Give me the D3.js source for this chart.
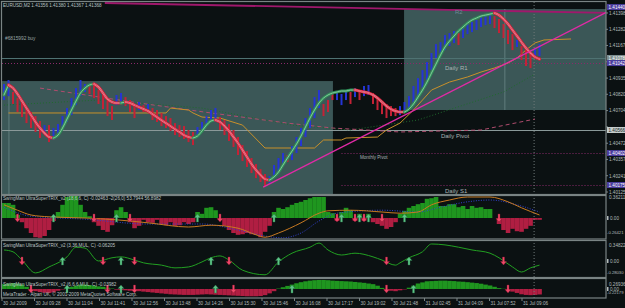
<!DOCTYPE html>
<html>
<head>
<meta charset="utf-8">
<script src="https://cdn.jsdelivr.net/npm/d3@7"></script>
<style>
body { margin: 0; background: #0b1112; }
svg { display: block; }
text { font-family: "Liberation Sans", Arial, sans-serif; }
</style>
</head>
<body>
<div id="chart"></div>
<script>
// ---- price bars (one per bar, bar 0 = left edge) ----
var ribbon = [
  1.40815,1.40886,1.40864,1.40822,1.40772,1.40722,1.40672,1.40623,1.40580,1.40544,
  1.40516,1.40509,1.40530,1.40580,1.40644,1.40708,1.40772,1.40829,1.40864,1.40886,
  1.40893,1.40871,1.40829,1.40786,1.40765,1.40758,1.40758,1.40765,1.40758,1.40743,
  1.40729,1.40715,1.40701,1.40679,1.40658,1.40637,1.40615,1.40594,1.40573,1.40552,
  1.40530,1.40516,1.40509,1.40523,1.40559,1.40601,1.40630,1.40637,1.40623,1.40594,
  1.40559,1.40516,1.40473,1.40424,1.40374,1.40324,1.40281,1.40246,1.40217,1.40210,
  1.40232,1.40267,1.40317,1.40367,1.40416,1.40466,1.40523,1.40587,1.40651,1.40708,
  1.40758,1.40793,1.40815,1.40829,1.40836,1.40843,1.40843,1.40850,1.40850,1.40843,
  1.40836,1.40829,1.40815,1.40793,1.40765,1.40736,1.40715,1.40701,1.40694,1.40694,
  1.40715,1.40751,1.40800,1.40850,1.40907,1.40971,1.41035,1.41099,1.41156,1.41198,
  1.41234,1.41270,1.41298,1.41326,1.41348,1.41362,1.41376,1.41383,1.41390,1.41398,
  1.41383,1.41355,1.41319,1.41277,1.41234,1.41191,1.41149,1.41113,1.41085,1.41070
];
var barOpen = [
  1.40779,1.40807,1.40836,1.40793,1.40765,1.40729,1.40694,1.40665,1.40630,1.40544,
  1.40601,1.40495,1.40530,1.40580,1.40623,1.40672,1.40743,1.40807,1.40836,1.40879,
  1.40879,1.40850,1.40815,1.40772,1.40736,1.40743,1.40758,1.40800,1.40779,1.40736,
  1.40708,1.40743,1.40708,1.40722,1.40708,1.40687,1.40665,1.40651,1.40615,1.40601,
  1.40594,1.40566,1.40552,1.40530,1.40559,1.40594,1.40630,1.40623,1.40658,1.40637,
  1.40608,1.40566,1.40516,1.40459,1.40416,1.40367,1.40324,1.40288,1.40253,1.40189,
  1.40224,1.40267,1.40317,1.40388,1.40352,1.40402,1.40452,1.40516,1.40580,1.40651,
  1.40722,1.40751,1.40779,1.40829,1.40779,1.40743,1.40779,1.40836,1.40800,1.40836,
  1.40807,1.40815,1.40829,1.40800,1.40772,1.40751,1.40736,1.40722,1.40672,1.40694,
  1.40708,1.40758,1.40800,1.40864,1.40921,1.40992,1.41078,1.41113,1.41134,1.41163,
  1.41184,1.41255,1.41220,1.41248,1.41262,1.41277,1.41298,1.41312,1.41319,1.41376,
  1.41355,1.41319,1.41277,1.41248,1.41156,1.41163,1.41134,1.41113,1.41078,1.41092
];
var barClose = [
  1.40893,1.40921,1.40751,1.40694,1.40658,1.40615,1.40580,1.40552,1.40509,1.40601,
  1.40480,1.40580,1.40608,1.40665,1.40722,1.40793,1.40864,1.40921,1.40893,1.40822,
  1.40793,1.40751,1.40715,1.40665,1.40637,1.40815,1.40829,1.40736,1.40694,1.40651,
  1.40765,1.40694,1.40751,1.40637,1.40623,1.40594,1.40580,1.40559,1.40530,1.40516,
  1.40502,1.40480,1.40459,1.40587,1.40623,1.40665,1.40708,1.40722,1.40566,1.40530,
  1.40488,1.40445,1.40388,1.40345,1.40303,1.40260,1.40224,1.40196,1.40168,1.40239,
  1.40317,1.40367,1.40402,1.40338,1.40452,1.40516,1.40580,1.40651,1.40722,1.40800,
  1.40850,1.40665,1.40694,1.40779,1.40836,1.40822,1.40850,1.40751,1.40864,1.40779,
  1.40879,1.40886,1.40751,1.40708,1.40679,1.40651,1.40665,1.40665,1.40736,1.40765,
  1.40807,1.40879,1.40935,1.40992,1.41049,1.41113,1.41177,1.41191,1.41241,1.41255,
  1.41270,1.41170,1.41298,1.41319,1.41334,1.41348,1.41369,1.41383,1.41390,1.41291,
  1.41255,1.41220,1.41177,1.41134,1.41206,1.41063,1.41021,1.41006,1.41149,1.41177
];

// ---- lines on the price chart: [bar, price] ----
var orangeBar = [1,36,37,41,42,44,48,53,58,69,71,75,76,83,85,88,91,95,99,103,106,109,112,114,116,118,120,126];
var orangePrice = [1.40687,1.40687,1.40722,1.40708,1.40687,1.40658,1.40651,1.40601,1.40438,1.40438,1.40495,1.40495,
  1.40509,1.40516,1.40566,1.40615,1.40708,1.40850,1.40907,1.40943,1.40978,1.41007,1.41042,1.41078,1.41135,1.41185,1.41206,1.41213];
var pinkBar = [8,30,46,63,73,88,106,118];
var pinkPrice = [1.40864,1.40758,1.40687,1.40615,1.40580,1.40552,1.40566,1.40644];
var dotGreenBar = [0,21,44,64,77,92,111,118];
var dotGreenPrice = [1.40743,1.40779,1.40722,1.40601,1.40566,1.40637,1.40836,1.40964];

// ---- zones (pivot boxes) ----
var zoneStart = [-0.5, 88.9];
var zoneEnd = [73.1, 134];
var zoneTop = [1.40914, 1.41426];
var zoneBottom = [1.40000, 1.40708];
var dividerBar = [1.1, 111.3];

// ---- horizontal levels ----
var levelPrice = [1.41078, 1.41042, 1.40566, 1.40402, 1.40175];
var levelFrom = [-1, -1, -1, 75, 75];
var levelKind = ["teal", "dots", "gray", "dots", "dots"];

// ---- trend lines ----
var trendBar0 = [22.4, 57.6];
var trendPrice0 = [1.41469, 1.40160];
var trendBar1 = [134, 134];
var trendPrice1 = [1.41398, 1.41405];

// ---- text objects ----
var noteText = ["R2", "Daily R1", "Daily Pivot", "Monthly Pivot", "Daily S1"];
var noteBar = [100.2, 98, 97.1, 79.1, 98];
var notePrice = [1.41390, 1.40996, 1.40510, 1.40360, 1.40118];

// ---- price axis ----
var priceTicks = [1.41398,1.41282,1.41167,1.41051,1.40935,1.40820,1.40704,1.40588,1.40472,1.40357,1.40241,1.40125];
var markPrice = [1.41440, 1.41078, 1.41042, 1.40566, 1.40402, 1.40175];
var markKind = ["purple", "gray", "purple", "light", "purple", "purple"];

// ---- indicator 1 ----
var hist1 = [
  0.25,0.25,0.22,0.05,-0.07,-0.17,-0.25,-0.32,-0.33,-0.30,
  -0.20,-0.05,0.10,0.22,0.35,0.42,0.38,0.22,0.10,0.03,
  -0.07,-0.13,-0.20,-0.23,-0.12,0.13,0.18,0.10,-0.07,-0.17,
  -0.13,-0.03,-0.07,-0.08,-0.03,-0.10,-0.12,-0.07,-0.13,-0.12,
  -0.07,-0.10,-0.07,0.10,0.07,0.17,0.18,0.13,-0.03,-0.13,
  -0.20,-0.25,-0.28,-0.27,-0.25,-0.27,-0.28,-0.32,-0.23,-0.13,
  0.10,0.17,0.15,0.18,0.22,0.25,0.27,0.30,0.33,0.35,
  0.35,0.35,0.10,0.08,-0.05,0.10,0.17,0.13,-0.05,0.07,
  -0.05,0.07,-0.07,-0.10,-0.13,-0.18,-0.15,-0.07,0.07,0.12,
  0.17,0.20,0.23,0.25,0.32,0.33,0.35,0.20,0.20,0.23,
  0.23,0.18,0.20,0.15,0.20,0.17,0.18,0.15,0.15,0,
  -0.10,-0.20,-0.25,-0.18,-0.22,-0.23,-0.18,-0.13,-0.03,-0.03
];
var sig1Bar = [0,3,6,10,18,25,32,41,46,52,56,58,61,66,70,72,77,84,88,92,95,99,103,108,112,115,119];
var sig1Val = [0.22,0.13,0.05,0.02,0,-0.03,-0.08,-0.15,-0.12,-0.17,-0.28,-0.32,-0.25,-0.08,0.08,0.12,0.13,0.10,0.08,0.10,0.22,0.30,0.35,0.35,0.27,0.17,0.05];
var slow1Bar = [0,6,18,32,44,52,58,62,66,70,74,84,92,97,103,108,114,119];
var slow1Val = [0.18,0.03,-0.02,-0.10,-0.10,-0.20,-0.30,-0.33,-0.25,-0.05,0.08,0.13,0.10,0.18,0.27,0.30,0.22,0.10];
var arrow1Bar = [3,11,20,25,28,43,48,60,74,75,78,79,80,81,84,89,110];
var arrow1Dir = [-1,1,-1,1,-1,1,-1,1,-1,1,-1,1,-1,1,-1,1,-1];

// ---- indicator 2 ----
var line2Bar = [0,2,4,7,10,14,16,18,21,24,26,29,31,35,38,41,44,46,48,50,53,58,61,64,68,70,72,75,78,82,84,87,88,90,93,95,98,101,104,108,110,113,115,117,119];
var line2Val = [0.24,0.20,0.02,-0.26,-0.13,0.09,0.30,0.28,0,0.07,0.09,0.02,-0.04,-0.09,-0.15,-0.13,-0.02,0.07,0.11,0.02,
  -0.20,-0.30,-0.02,0.17,0.30,0.39,0.24,0.13,0.17,0.09,0.02,-0.09,-0.04,0.07,0.20,0.37,0.35,0.30,0.24,0.17,0.07,-0.13,-0.24,-0.15,-0.09];
var arrow2Bar = [4,13,22,26,29,46,50,61,85,90,111];
var arrow2Dir = [-1,1,-1,1,-1,1,-1,1,-1,1,-1];

// ---- indicator 3 ----
var hist3 = [
  0.22,0.25,0.27,0.25,0.20,0.10,-0.05,-0.10,-0.14,-0.17,
  -0.18,-0.15,-0.08,-0.02,0.05,0.10,0.15,0.20,0.20,0.18,
  0.15,0.12,0.10,0.06,0.02,-0.03,-0.05,-0.06,-0.08,-0.10,
  -0.10,-0.12,-0.14,-0.16,-0.18,-0.20,-0.22,-0.24,-0.25,-0.26,
  -0.27,-0.27,-0.27,-0.26,-0.25,-0.24,-0.25,-0.26,-0.27,-0.28,
  -0.29,-0.30,-0.31,-0.32,-0.33,-0.33,-0.33,-0.32,-0.28,-0.20,
  -0.10,0.02,0.08,0.14,0.20,0.26,0.31,0.35,0.38,0.40,
  0.41,0.41,0.40,0.38,0.37,0.36,0.35,0.34,0.32,0.30,
  0.28,0.25,0.22,0.15,0.05,-0.05,-0.08,-0.10,-0.06,-0.02,
  0.06,0.15,0.25,0.30,0.35,0.36,0.37,0.38,0.38,0.37,
  0.36,0.34,0.33,0.31,0.29,0.27,0.24,0.20,0.16,0.10,
  0.04,0.01,-0.05,-0.12,-0.18,-0.24,-0.27,-0.28,-0.27,-0.25
];
var arrow3Bar = [6,14,23,26,29,47,51,64,85,91,112];
var arrow3Dir = [-1,1,-1,1,-1,1,-1,1,-1,1,-1];

// ---- time axis ----
var timeLabels = ["30 Jul 2009","30 Jul 09:28","30 Jul 11:04","30 Jul 11:41","30 Jul 12:56","30 Jul 13:48",
  "30 Jul 14:26","30 Jul 15:30","30 Jul 15:46","30 Jul 16:08","30 Jul 17:17","30 Jul 19:02","30 Jul 21:48",
  "31 Jul 02:45","31 Jul 04:09","31 Jul 07:52","31 Jul 09:06"];

var width = 625, height = 308, axisX = 606;

var x = d3.scaleLinear().domain([0, 119]).range([4, 539.5]);
var yMain = d3.scaleLinear().domain([1.40111, 1.41476]).range([194, 2]);
var y1 = d3.scaleLinear().domain([-0.333, 0.4]).range([238, 194]);
var y2 = d3.scaleLinear().domain([-0.37, 0.45]).range([278, 240.3]);
var y3 = d3.scaleLinear().domain([-0.41, 0.5]).range([298, 278]);
var xTime = d3.scalePoint().domain(timeLabels).range([2, 522]);

var svg = d3.select("#chart").append("svg")
    .attr("width", width)
    .attr("height", height);

svg.append("rect").attr("width", width).attr("height", height).attr("fill", "#0b1112");

var defs = svg.append("defs");
function clip(id, y0, y1_) {
  defs.append("clipPath").attr("id", id)
    .append("rect").attr("x", 2).attr("y", y0).attr("width", axisX - 2).attr("height", y1_ - y0);
}
clip("cMain", 2, 194);
clip("c1", 195, 238.5);
clip("c2", 240.5, 277);
clip("c3", 278.5, 297.5);

// ================= main chart =================
var main = svg.append("g").attr("clip-path", "url(#cMain)");

main.selectAll(".zone")
    .data(zoneStart)
  .enter().append("rect")
    .attr("x", function(d) { return x(d); })
    .attr("width", function(d, i) { return x(zoneEnd[i]) - x(d); })
    .attr("y", function(d, i) { return yMain(zoneTop[i]); })
    .attr("height", function(d, i) { return yMain(zoneBottom[i]) - yMain(zoneTop[i]); })
    .attr("fill", "#3b5757");

main.selectAll(".divider")
    .data(dividerBar)
  .enter().append("line")
    .attr("x1", function(d) { return x(d); })
    .attr("x2", function(d) { return x(d); })
    .attr("y1", function(d, i) { return yMain(zoneTop[i]); })
    .attr("y2", function(d, i) { return yMain(zoneBottom[i]); })
    .attr("stroke", "#6a8888")
    .attr("stroke-width", 0.8);

// horizontal levels
main.selectAll(".level")
    .data(levelPrice)
  .enter().append("line")
    .attr("x1", function(d, i) { return levelFrom[i] < 0 ? 2 : x(levelFrom[i]); })
    .attr("x2", axisX)
    .attr("y1", function(d) { return Math.round(yMain(d)) + 0.5; })
    .attr("y2", function(d) { return Math.round(yMain(d)) + 0.5; })
    .attr("stroke", function(d, i) {
      return levelKind[i] == "teal" ? "#4f7272" : levelKind[i] == "gray" ? "#8a9999" : "#8a2a6a";
    })
    .attr("stroke-width", 1)
    .attr("stroke-dasharray", function(d, i) { return levelKind[i] == "dots" ? "1,2" : null; });

// period separator
main.append("line")
    .attr("x1", x(117.8)).attr("x2", x(117.8))
    .attr("y1", 2).attr("y2", 194)
    .attr("stroke", "#6f7a7a").attr("stroke-dasharray", "1,2");

var priceLine = d3.line()
    .x(function(d) { return x(d[0]); })
    .y(function(d) { return yMain(d[1]); });

main.append("path")
    .attr("d", priceLine(dotGreenBar.map(function(b, i) { return [b, dotGreenPrice[i]]; })))
    .attr("fill", "none").attr("stroke", "#1f6a2c").attr("stroke-dasharray", "1,2");

main.append("path")
    .attr("d", priceLine(pinkBar.map(function(b, i) { return [b, pinkPrice[i]]; })))
    .attr("fill", "none").attr("stroke", "#b04c6e").attr("stroke-dasharray", "4,3");

main.append("path")
    .attr("d", priceLine(orangeBar.map(function(b, i) { return [b, orangePrice[i]]; })))
    .attr("fill", "none").attr("stroke", "#c8902a").attr("stroke-width", 1);

// candles
main.selectAll(".bar")
    .data(barOpen)
  .enter().append("rect")
    .attr("x", function(d, i) { return x(i) - 1; })
    .attr("width", 2)
    .attr("y", function(d, i) { return yMain(Math.max(d, barClose[i])); })
    .attr("height", function(d, i) { return Math.abs(yMain(d) - yMain(barClose[i])); })
    .attr("fill", function(d, i) { return barClose[i] > d ? "#2535d4" : "#c42236"; });

// ribbon, coloured by direction
var runs = [], cur = null, prevDir = 1;
for (var i = 0; i < ribbon.length - 1; i++) {
  var dir = ribbon[i + 1] > ribbon[i] ? 1 : (ribbon[i + 1] < ribbon[i] ? -1 : prevDir);
  if (!cur || dir !== cur.dir) { cur = {dir: dir, pts: [i]}; runs.push(cur); }
  cur.pts.push(i + 1);
  prevDir = dir;
}
var ribbonLine = d3.line()
    .x(function(d) { return x(d); })
    .y(function(d) { return yMain(ribbon[d]); })
    .curve(d3.curveMonotoneX);

runs.forEach(function(r) {
  var styles = r.dir > 0
    ? [["#2f8f58", 3], ["#8fcca2", 0.9]]
    : [["#d81e38", 3.2], ["#e89aa6", 1.5], ["#d81e38", 0.6]];
  styles.forEach(function(s) {
    main.append("path")
        .attr("d", ribbonLine(r.pts))
        .attr("fill", "none")
        .attr("stroke", s[0])
        .attr("stroke-width", s[1])
        .attr("stroke-linecap", "round");
  });
});

// trend lines
main.selectAll(".trend")
    .data(trendBar0)
  .enter().append("line")
    .attr("x1", function(d) { return x(d); })
    .attr("y1", function(d, i) { return yMain(trendPrice0[i]); })
    .attr("x2", function(d, i) { return x(trendBar1[i]); })
    .attr("y2", function(d, i) { return yMain(trendPrice1[i]); })
    .attr("stroke", function(d, i) { return i == 0 ? "#a0186c" : "#e02aa6"; })
    .attr("stroke-width", function(d, i) { return i == 0 ? 1.8 : 1.3; });

main.selectAll(".note")
    .data(noteText)
  .enter().append("text")
    .attr("x", function(d, i) { return x(noteBar[i]); })
    .attr("y", function(d, i) { return yMain(notePrice[i]); })
    .attr("font-size", function(d, i) { return i == 3 ? 4.6 : 6; })
    .attr("fill", function(d, i) { return i == 0 ? "#6d8a96" : "#a9b3b3"; })
    .text(function(d) { return d; });

svg.append("text").attr("x", 3).attr("y", 7).attr("font-size", 4.6).attr("fill", "#b8c2c2")
    .text("EURUSD,M2  1.41356 1.41380 1.41367 1.41368");
svg.append("text").attr("x", 5).attr("y", 40).attr("font-size", 4.8).attr("fill", "#9aa6a6")
    .text("#6815992 buy");

// ================= indicators =================
function histogram(g, values, y) {
  g.selectAll(".h")
      .data(values)
    .enter().append("rect")
      .attr("x", function(d, i) { return x(i) - 2.25; })
      .attr("width", 4.6)
      .attr("y", function(d) { return Math.min(y(d), y(0)); })
      .attr("height", function(d) { return Math.abs(y(d) - y(0)); })
      .attr("fill", function(d) { return d >= 0 ? "#1f961f" : "#b01e42"; });
}

function arrows(g, bars, dirs, y) {
  g.selectAll(".a")
      .data(bars)
    .enter().append("path")
      .attr("d", function(b, i) {
        var cx = x(b), cy = y(0), s = dirs[i];
        return "M" + cx + "," + (cy - 4 * s) +
          "L" + (cx + 3) + "," + (cy - 0.5 * s) + "L" + (cx + 1) + "," + (cy - 0.5 * s) +
          "L" + (cx + 1) + "," + (cy + 4 * s) + "L" + (cx - 1) + "," + (cy + 4 * s) +
          "L" + (cx - 1) + "," + (cy - 0.5 * s) + "L" + (cx - 3) + "," + (cy - 0.5 * s) + "Z";
      })
      .attr("fill", function(b, i) { return dirs[i] > 0 ? "#5cc585" : "#ef4668"; })
      .attr("stroke", function(b, i) { return dirs[i] > 0 ? "#2a7048" : "#8a1a30"; })
      .attr("stroke-width", 0.4);
}

var p1 = svg.append("g").attr("clip-path", "url(#c1)");
histogram(p1, hist1, y1);
var valLine1 = d3.line().x(function(d) { return x(d[0]); }).y(function(d) { return y1(d[1]); }).curve(d3.curveMonotoneX);
p1.append("path")
    .attr("d", valLine1(slow1Bar.map(function(b, i) { return [b, slow1Val[i]]; })))
    .attr("fill", "none").attr("stroke", "#3242d0").attr("stroke-dasharray", "1,1.5");
p1.append("path")
    .attr("d", valLine1(sig1Bar.map(function(b, i) { return [b, sig1Val[i]]; })))
    .attr("fill", "none").attr("stroke", "#c87a22");
arrows(p1, arrow1Bar, arrow1Dir, y1);

var p2 = svg.append("g").attr("clip-path", "url(#c2)");
var valLine2 = d3.line().x(function(d) { return x(d[0]); }).y(function(d) { return y2(d[1]); }).curve(d3.curveMonotoneX);
p2.append("path")
    .attr("d", valLine2(line2Bar.map(function(b, i) { return [b, line2Val[i]]; })))
    .attr("fill", "none").attr("stroke", "#22a022").attr("stroke-width", 1);
arrows(p2, arrow2Bar, arrow2Dir, y2);

var p3 = svg.append("g").attr("clip-path", "url(#c3)");
histogram(p3, hist3, y3);
arrows(p3, arrow3Bar, arrow3Dir, y3);

// separator for all sub windows
svg.append("line")
    .attr("x1", x(117.8)).attr("x2", x(117.8))
    .attr("y1", 195).attr("y2", 298)
    .attr("stroke", "#6f7a7a").attr("stroke-dasharray", "1,2");

var titles = [
  ["SwingMan UltraSuperTRIX_v2 (18,6,6, C) -0.02463 -2(26,0) 53.7944 56.8982", 200],
  ["SwingMan UltraSuperTRIX_v2 (3,36,MUL, C) -0.06205", 247],
  ["SwingMan UltraSuperTRIX_v2 (6,6,6,MUL, C) -0.03982", 285.5],
  ["MetaTrader - Alpari UK, \u00a9 2001-2009 MetaQuotes Software Corp.", 296]
];
svg.selectAll(".title")
    .data(titles)
  .enter().append("text")
    .attr("x", 3)
    .attr("y", function(d) { return d[1]; })
    .attr("font-size", 4.6)
    .attr("fill", "#bcc4c4")
    .text(function(d) { return d[0]; });

// ================= frames =================
var frames = [[1.5, 194.5], [195.5, 239], [240.5, 277.5], [278.5, 298]];
svg.selectAll(".frame")
    .data(frames)
  .enter().append("rect")
    .attr("x", 1.5)
    .attr("y", function(d) { return d[0]; })
    .attr("width", axisX - 1.5)
    .attr("height", function(d) { return d[1] - d[0]; })
    .attr("fill", "none")
    .attr("stroke", "#7a8484")
    .attr("stroke-width", 1.2);

// ================= price axis =================
var ax = svg.append("g");
// a tick label hidden under a marker label is not drawn
var freeTicks = priceTicks.filter(function(p) {
  return markPrice.every(function(m) { return Math.abs(yMain(m) - yMain(p)) > 5; });
});
ax.selectAll(".pt")
    .data(freeTicks)
  .enter().append("text")
    .attr("x", axisX + 3)
    .attr("y", function(d) { return yMain(d) + 1.8; })
    .attr("font-size", 4.6)
    .attr("fill", "#b4bcbc")
    .text(function(d) { return d.toFixed(5); });
ax.selectAll(".ptick")
    .data(priceTicks)
  .enter().append("line")
    .attr("x1", axisX).attr("x2", axisX + 2)
    .attr("y1", function(d) { return yMain(d); })
    .attr("y2", function(d) { return yMain(d); })
    .attr("stroke", "#7a8484");

var marks = ax.selectAll(".mark")
    .data(markPrice)
  .enter().append("g")
    .attr("transform", function(d) { return "translate(" + (axisX + 1) + "," + yMain(d) + ")"; });
marks.append("rect")
    .attr("x", 0).attr("y", -3).attr("width", 18).attr("height", 6)
    .attr("fill", function(d, i) {
      return markKind[i] == "purple" ? "#4b3c9e" : markKind[i] == "gray" ? "#7d8e8e" : "#c4cccc";
    });
marks.append("text")
    .attr("x", 1.5).attr("y", 1.8)
    .attr("font-size", 4.6)
    .attr("fill", function(d, i) { return markKind[i] == "light" ? "#202828" : "#ffffff"; })
    .text(function(d) { return d.toFixed(5); });

var subAxes = [
  [y1, [0.36211, 0, -0.26421]],
  [y2, [0.34822, 0, -0.28030]],
  [y3, [0.26936, 0, -0.22179]]
];
subAxes.forEach(function(s) {
  s[1].forEach(function(v) {
    var yy = s[0](v);
    if (v === 0) {
      ax.append("rect").attr("x", axisX + 1).attr("y", yy - 2).attr("width", 1.5).attr("height", 4).attr("fill", "#b4bcbc");
    }
    ax.append("text")
        .attr("x", v < 0 ? axisX + 1 : axisX + (v === 0 ? 4 : 3))
        .attr("y", yy + (v > 0 ? 2.5 : v < 0 ? 0.5 : 1.8))
        .attr("font-size", v < 0 ? 4.2 : 4.6)
        .attr("fill", "#b4bcbc")
        .text(v === 0 ? "0.00" : v.toFixed(5));
  });
});

// ================= time axis =================
var tx = svg.append("g");
tx.selectAll(".tt")
    .data(timeLabels)
  .enter().append("line")
    .attr("x1", function(d) { return xTime(d); })
    .attr("x2", function(d) { return xTime(d); })
    .attr("y1", 298).attr("y2", 301)
    .attr("stroke", "#7a8484");
tx.selectAll(".tl")
    .data(timeLabels)
  .enter().append("text")
    .attr("x", function(d) { return xTime(d) + 1; })
    .attr("y", 305)
    .attr("font-size", 4.6)
    .attr("fill", "#b4bcbc")
    .text(function(d) { return d; });
</script>
</body>
</html>
